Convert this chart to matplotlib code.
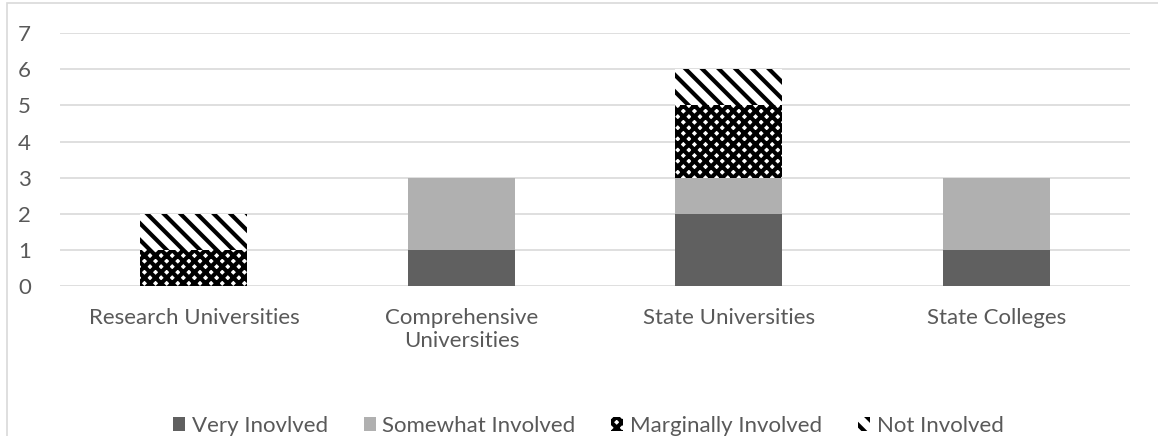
import matplotlib.pyplot as plt
import numpy as np
from matplotlib.patches import Rectangle

plt.rcParams['font.family'] = ['Lato', 'DejaVu Sans']
plt.rcParams['hatch.linewidth'] = 3.0

categories = ['Research Universities', 'Comprehensive\nUniversities', 'State Universities', 'State Colleges']
series = ['Very Inovlved', 'Somewhat Involved', 'Marginally Involved', 'Not Involved']
very = [0, 1, 2, 1]
somewhat = [0, 2, 1, 2]
marginal = [1, 0, 2, 0]
not_inv = [1, 0, 1, 0]

fig = plt.figure(figsize=(11.58, 4.36), dpi=100)
ax = fig.add_axes([0.052, 0.344, 0.924, 0.58])

x = np.arange(len(categories))
w = 0.4
txt = '#595959'
bottom = np.zeros(len(categories))
styles = [
    dict(color='#606060'),
    dict(color='#b0b0b0'),
    dict(facecolor='white', edgecolor='black', hatch='xxx', linewidth=0),
    dict(facecolor='white', edgecolor='black', hatch='\\\\', linewidth=0),
]
for vals, name, st in zip([very, somewhat, marginal, not_inv], series, styles):
    ax.bar(x, vals, w, bottom=bottom, label=name, zorder=3, **st)
    bottom += np.array(vals)

ax.set_ylim(0, 7)
ax.set_yticks(range(0, 8))
ax.set_xlim(-0.5, len(categories) - 0.5)
ax.set_xticks(x)
ax.set_xticklabels(categories, linespacing=1.15)
ax.grid(axis='y', color='#d9d9d9', linewidth=1.2, zorder=0)
for s in ax.spines.values():
    s.set_visible(False)
ax.tick_params(length=0, labelsize=16, colors=txt, pad=16)
ax.tick_params(axis='y', pad=21)

leg = fig.legend(loc='center', bbox_to_anchor=(0.508, 0.023), ncol=4, frameon=False,
                 fontsize=16, handlelength=0.55, handleheight=0.55, handletextpad=0.3,
                 columnspacing=1.6, labelcolor=txt)

fig.patches.append(Rectangle((7 / 1158, -0.1), 1.2, 1 - 3 / 436 + 0.1, transform=fig.transFigure,
                             fill=False, edgecolor='#d9d9d9', linewidth=1.2))

fig.savefig('out.png', dpi=100)
